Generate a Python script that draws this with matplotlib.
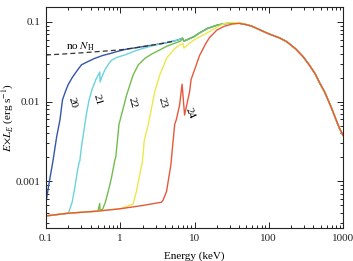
import numpy as np
import matplotlib
matplotlib.use('Agg')
import matplotlib.pyplot as plt
from matplotlib.ticker import FixedLocator, FixedFormatter, LogLocator, NullFormatter

plt.rcParams['font.family'] = ['Liberation Serif', 'DejaVu Serif']
plt.rcParams['mathtext.fontset'] = 'stix'

#------------------------------------------------------------
# data: energy (keV) and E x L_E (erg/s)
# unabsorbed spectrum ("no NH")
e_int = [0.1, 0.2, 0.3, 0.5, 0.7, 1.0, 1.5, 2.0, 3.0, 4.0, 5.0, 6.0, 6.9, 7.2,
         8.0, 10, 12, 15, 20, 25, 30, 40, 50, 60, 75, 100, 140, 174, 230, 290,
         350, 420, 488, 560, 630, 720, 820, 900, 1000]
f_int = [0.0385, 0.0400, 0.0410, 0.0425, 0.0435, 0.0447, 0.0470, 0.0490, 0.0520,
         0.0545, 0.0570, 0.0595, 0.0625, 0.0575, 0.0600, 0.0660, 0.0740, 0.0830,
         0.0910, 0.0950, 0.0965, 0.0965, 0.0925, 0.0880, 0.0800, 0.0710, 0.0630,
         0.0567, 0.0460, 0.0367, 0.0290, 0.0225, 0.0170, 0.0135, 0.0105, 0.0078,
         0.0057, 0.0046, 0.0038]

# absorbed spectra, low-energy part (log NH = 20 ... 24)
e_20 = [0.1, 0.111, 0.124, 0.139, 0.154, 0.167, 0.183, 0.199, 0.225, 0.258,
        0.30, 0.37, 0.455, 0.58, 0.72, 0.9, 1.2]
f_20 = [5.5e-4, 1.0e-3, 1.8e-3, 3.6e-3, 5.9e-3, 0.0106, 0.0135, 0.0164, 0.0200,
        0.0240, 0.0290, 0.0320, 0.0350, 0.0380, 0.0400, 0.0425, 0.0455]

e_21 = [0.1, 0.2, 0.225, 0.245, 0.265, 0.28, 0.285, 0.30, 0.325, 0.35, 0.38,
        0.42, 0.47, 0.53, 0.535, 0.56, 0.62, 0.7, 0.76, 0.9, 1.15, 1.5, 2.0, 3.0]
f_21 = [3.7e-4, 4.0e-4, 5.5e-4, 8.5e-4, 1.35e-3, 1.75e-3, 1.8e-3, 2.7e-3, 4.4e-3,
        7.0e-3, 0.0105, 0.0145, 0.0190, 0.0236, 0.0177, 0.0200, 0.0250, 0.0300,
        0.0330, 0.0360, 0.0385, 0.0425, 0.0465, 0.0515]

e_22 = [0.1, 0.2, 0.5, 0.53, 0.535, 0.58, 0.63, 0.688, 0.76, 0.846, 0.87, 0.96,
        1.22, 1.49, 1.75, 2.15, 2.7, 3.4, 4.3, 5.4, 6.5]
f_22 = [3.7e-4, 4.0e-4, 4.25e-4, 5.3e-4, 4.35e-4, 4.5e-4, 5.5e-4, 7.5e-4, 1.1e-3,
        1.86e-3, 2.0e-3, 5.15e-3, 0.0122, 0.0216, 0.0290, 0.0350, 0.0400, 0.0445,
        0.0500, 0.0540, 0.0575]

e_23 = [0.1, 0.2, 0.5, 1.0, 1.49, 1.65, 1.94, 1.98, 2.1, 2.38, 2.92, 3.4, 4.2,
        5.2, 6.0, 7.0, 7.2, 8.5, 10.6, 14.5, 20, 25, 30, 40]
f_23 = [3.7e-4, 4.0e-4, 4.25e-4, 4.55e-4, 5.2e-4, 7.5e-4, 1.6e-3, 1.7e-3, 3.2e-3,
        5.15e-3, 0.0134, 0.0216, 0.0350, 0.0445, 0.0500, 0.0540, 0.0470, 0.0540,
        0.0620, 0.0720, 0.0860, 0.0950, 0.0985, 0.0980]

e_24 = [0.1, 0.2, 0.5, 1.0, 2.0, 3.6, 3.78, 4.2, 4.8, 5.4, 5.7, 6.3, 6.8, 7.35,
        8.6, 9.0, 10, 11.7, 14.4, 16, 20, 25, 32, 40]
f_24 = [3.7e-4, 4.0e-4, 4.25e-4, 4.55e-4, 5.0e-4, 5.5e-4, 5.85e-4, 7.5e-4, 1.6e-3,
        5.15e-3, 6.0e-3, 9.1e-3, 0.0166, 0.0068, 0.0134, 0.0190, 0.0250, 0.0380,
        0.0550, 0.0640, 0.0790, 0.0880, 0.0940, 0.0960]

nh_labels = ['20', '21', '22', '23', '24']
colors = ['#3456aa', '#6ad4da', '#72bd4e', '#ece84c', '#e8573c']
label_pos = [(0.224, 0.0096), (0.486, 0.0105), (1.48, 0.0096), (3.64, 0.0096), (8.67, 0.0072)]
label_rot = [-75, -75, -75, -75, -68]

#------------------------------------------------------------
fig = plt.figure(figsize=(3.53, 2.61), dpi=100)
fig.subplots_adjust(left=0.1303, right=0.9717, bottom=0.1264, top=0.9732)
ax = fig.add_subplot(111)

curves = [(e_20, f_20), (e_21, f_21), (e_22, f_22), (e_23, f_23), (e_24, f_24)]
for (e, f), c in zip(curves, colors):
    # beyond the last absorbed point the curve follows the unabsorbed one
    tail = [(x, y) for x, y in zip(e_int, f_int) if x > e[-1]]
    ee = list(e) + [t[0] for t in tail]
    ff = list(f) + [t[1] for t in tail]
    ax.plot(ee, ff, color=c, lw=1.0, solid_joinstyle='round')

# dashed unabsorbed curve, visible at low energies
e_dash = [x for x in e_int if x <= 5.0]
f_dash = [y for x, y in zip(e_int, f_int) if x <= 5.0]
ax.plot(e_dash, f_dash, color='#333333', lw=0.9, ls=(0, (4, 2.5)))

for lab, (x, y), r in zip(nh_labels, label_pos, label_rot):
    ax.text(x, y, lab, rotation=r, fontsize=8, ha='center', va='center')
ax.text(0.287, 0.0487, r'no $N_{\rm H}$', fontsize=8, ha='center', va='center')

ax.set_xscale('log')
ax.set_yscale('log')
ax.set_xlim(0.1, 1000)
ax.set_ylim(2.61e-4, 0.154)

ax.xaxis.set_major_locator(FixedLocator([0.1, 1, 10, 100, 1000]))
ax.xaxis.set_major_formatter(FixedFormatter(['0.1', '1', '10', '100', '1000']))
ax.yaxis.set_major_locator(FixedLocator([0.001, 0.01, 0.1]))
ax.yaxis.set_major_formatter(FixedFormatter(['0.001', '0.01', '0.1']))
for a in (ax.xaxis, ax.yaxis):
    a.set_minor_locator(LogLocator(base=10, subs=np.arange(2, 10), numticks=20))
    a.set_minor_formatter(NullFormatter())

ax.tick_params(which='both', direction='in', top=True, right=True, labelsize=8,
               width=0.7, colors='#222222')
ax.tick_params(which='major', length=4, pad=4)
ax.tick_params(which='minor', length=2.2)
for s in ax.spines.values():
    s.set_linewidth(0.8)
    s.set_color('#222222')

ax.set_xlabel('Energy (keV)', fontsize=8, labelpad=6)
ax.set_ylabel(r'$E\!\times\!L_E$ (erg s$^{-1}$)', fontsize=8, va='center')
ax.yaxis.set_label_coords(-0.128, 0.5)

fig.savefig('out.png', dpi=100)
